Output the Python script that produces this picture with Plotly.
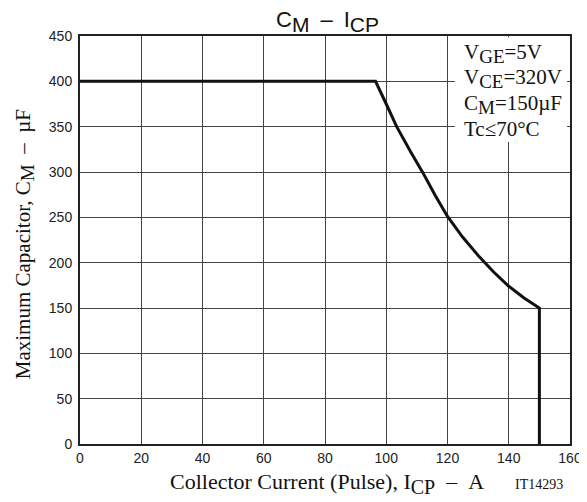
import plotly.graph_objects as go

# curve C_M vs I_CP
icp = [0, 96.5, 100, 103.4, 108, 112, 116, 120, 125, 130, 135, 140, 145, 150, 150]
cm = [400, 400, 375, 350, 322, 299, 274, 251, 228, 208, 190, 174, 161, 150, 0]

x_ticks = [0, 20, 40, 60, 80, 100, 120, 140, 160]
y_ticks = [0, 50, 100, 150, 200, 250, 300, 350, 400, 450]


def sub(s, size):
    # subscript nearly as big as the main text, like the datasheet
    return '<sub><span style="font-size:%dpx">%s</span></sub>' % (size, s)


cond_lines = [
    "V" + sub("GE", 19) + "=5V",
    "V" + sub("CE", 19) + "=320V",
    "C" + sub("M", 19) + "=150µF",
    "Tc≤70°C",
]
cond_y = [0.958, 0.897, 0.833, 0.772]

serif = "Liberation Serif, Times New Roman, serif"
sans = "Liberation Sans, Arial, sans-serif"
sp = "\u2002"

fig = go.Figure()

fig.add_trace(go.Scatter(
    x=icp,
    y=cm,
    mode="lines",
    line=dict(color="#111111", width=3),
    showlegend=False
))

fig.update_layout(
    width=579,
    height=494,
    paper_bgcolor="white",
    plot_bgcolor="white",
    margin=dict(l=72, r=17, t=28, b=58),
    font=dict(family=sans, size=14, color="#222222"),
)

fig.update_xaxes(
    range=[0, 160],
    tickvals=x_ticks,
    showgrid=True,
    gridcolor="#444444",
    gridwidth=1,
    showline=True,
    linecolor="#222222",
    linewidth=2,
    mirror=True,
    zeroline=False,
    ticks="",
    automargin=False,
    tickfont=dict(family=sans, size=14, color="#222222"),
)

fig.update_yaxes(
    range=[0, 450],
    tickvals=y_ticks,
    showgrid=True,
    gridcolor="#444444",
    gridwidth=1,
    showline=True,
    linecolor="#222222",
    linewidth=2,
    mirror=True,
    zeroline=False,
    ticks="",
    automargin=False,
    ticklabelstandoff=3,
    tickfont=dict(family=sans, size=14, color="#222222"),
)

# white patch behind the conditions text
fig.add_shape(
    type="rect",
    xref="paper", yref="paper",
    x0=0.765, x1=0.994, y0=0.74, y1=0.997,
    line=dict(width=0),
    fillcolor="white",
    layer="above",
)

for txt, yy in zip(cond_lines, cond_y):
    fig.add_annotation(
        text=txt,
        xref="paper", yref="paper",
        x=0.781, y=yy,
        xanchor="left", yanchor="middle",
        align="left",
        borderpad=0,
        showarrow=False,
        font=dict(family=serif, size=21, color="#111111"),
    )

# title
fig.add_annotation(
    text="C" + sub("M", 21) + sp + "–" + sp + "I" + sub("CP", 21),
    xref="paper", yref="paper",
    x=0.505, y=0.998,
    xanchor="center", yanchor="bottom",
    borderpad=0,
    showarrow=False,
    font=dict(family=sans, size=22, color="#111111"),
)

# axis titles
fig.add_annotation(
    text="Collector Current (Pulse), I" + sub("CP", 20) + sp + "–" + sp + "A",
    xref="paper", yref="paper",
    x=0.504, y=-0.098,
    xanchor="center", yanchor="middle",
    showarrow=False,
    font=dict(family=serif, size=22, color="#111111"),
)

fig.add_annotation(
    text="IT14293",
    xref="paper", yref="paper",
    x=0.937, y=-0.100,
    xanchor="center", yanchor="middle",
    showarrow=False,
    font=dict(family=serif, size=14, color="#111111"),
)

fig.add_annotation(
    text="Maximum Capacitor, C" + sub("M", 19) + sp + "–" + sp + "µF",
    xref="paper", yref="paper",
    x=-0.114, y=0.49,
    xanchor="center", yanchor="middle",
    textangle=-90,
    borderpad=0,
    showarrow=False,
    font=dict(family=serif, size=21, color="#111111"),
)

fig.write_html("out.html")
